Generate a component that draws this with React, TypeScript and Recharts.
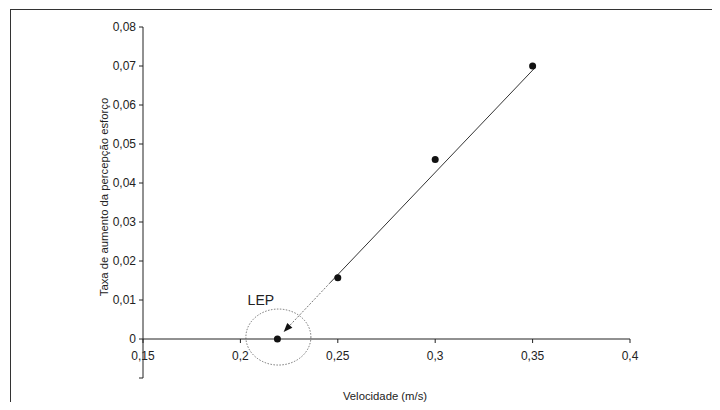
import { ReferenceDot, ReferenceLine, Scatter, ScatterChart, XAxis, YAxis } from "recharts";

// measured points: velocity (m/s) vs rate of perceived exertion increase
const pontos = [
  { x: 0.219, y: 0 },
  { x: 0.25, y: 0.0157 },
  { x: 0.3, y: 0.046 },
  { x: 0.35, y: 0.07 },
];

// regression line (solid part) and its extrapolation down to the LEP
const reta = [
  { x: 0.246, y: 0.0144 },
  { x: 0.3515, y: 0.0697 },
];
const extrapolacao = [
  { x: 0.246, y: 0.0144 },
  { x: 0.2222, y: 0.0018 },
];

const lep = { x: 0.2195, y: 0.0005 };
const lepLabel = { x: 0.2105, y: 0.01, text: "LEP" };

const xTicks = [0.15, 0.2, 0.25, 0.3, 0.35, 0.4];
const yTicks = [-0.01, 0, 0.01, 0.02, 0.03, 0.04, 0.05, 0.06, 0.07, 0.08];

const FONT = "'Liberation Sans', Arial, sans-serif";
const INK = "#222";

const W = 720;
const H = 410;
const TOP = 27;
const BOTTOM = 378;
// distance from the bottom of the plot (-0.01) up to the zero line
const ZERO_OFFSET = (BOTTOM - TOP) / 9;

const fmt = (v: number) => (v < 0 ? "" : String(v).replace(".", ","));

function XTick({ x, y, payload }: any) {
  const y0 = y - ZERO_OFFSET;
  return (
    <g>
      <line x1={x} y1={y0} x2={x} y2={y0 + 4} stroke={INK} />
      <text x={x} y={y0 + 21} textAnchor="middle" fill={INK} fontSize={12} fontFamily={FONT}>
        {fmt(payload.value)}
      </text>
    </g>
  );
}

function Arrow({ x1, y1, x2, y2 }: any) {
  const a = Math.atan2(y2 - y1, x2 - x1);
  const len = 9;
  const w = 3.5;
  const bx = x2 - len * Math.cos(a);
  const by = y2 - len * Math.sin(a);
  const px = -Math.sin(a) * w;
  const py = Math.cos(a) * w;
  return (
    <g>
      <line x1={x1} y1={y1} x2={bx} y2={by} stroke="#777" strokeWidth={1} strokeDasharray="2 1.5" />
      <polygon points={`${x2},${y2} ${bx + px},${by + py} ${bx - px},${by - py}`} fill="#111" />
    </g>
  );
}

export default function App() {
  return (
    <div style={{ position: "relative", width: W, height: H, margin: -8, overflow: "hidden", background: "#fff" }}>
      <div
        style={{
          position: "absolute",
          left: 10,
          top: 9,
          width: 705,
          height: 440,
          border: "1px solid #333",
        }}
      />
      <div style={{ position: "absolute", left: 0, top: 0 }}>
        <ScatterChart width={W} height={H} margin={{ top: TOP, right: 90, left: 103, bottom: 12 }}>
          <XAxis
            type="number"
            dataKey="x"
            domain={[0.15, 0.4]}
            ticks={xTicks}
            axisLine={false}
            tickLine={false}
            tickSize={0}
            tickMargin={0}
            height={20}
            tick={(p: any) => <XTick {...p} />}
          />
          <YAxis
            type="number"
            dataKey="y"
            domain={[-0.01, 0.08]}
            ticks={yTicks}
            width={40}
            axisLine={{ stroke: INK }}
            tickLine={{ stroke: INK }}
            tickSize={4}
            tickMargin={3}
            tickFormatter={fmt}
            tick={{ fill: INK, fontSize: 12, fontFamily: FONT }}
          />
          <ReferenceLine y={0} stroke={INK} strokeWidth={1} />
          <Scatter
            data={reta}
            line={{ stroke: "#333", strokeWidth: 1 }}
            shape={() => <g />}
            isAnimationActive={false}
          />
          <ReferenceLine
            segment={[extrapolacao[0], extrapolacao[1]]}
            shape={(p: any) => <Arrow {...p} />}
          />
          <ReferenceDot
            x={lep.x}
            y={lep.y}
            shape={(p: any) => (
              <ellipse cx={p.cx} cy={p.cy} rx={32.5} ry={28} fill="none" stroke="#555" strokeWidth={0.8} strokeDasharray="1.5 1.5" />
            )}
          />
          <ReferenceDot
            x={lepLabel.x}
            y={lepLabel.y}
            shape={(p: any) => (
              <text x={p.cx} y={p.cy + 5} textAnchor="middle" fill={INK} fontSize={14} fontFamily={FONT}>
                {lepLabel.text}
              </text>
            )}
          />
          <Scatter
            data={pontos}
            fill="#111"
            shape={(p: any) => <circle cx={p.cx} cy={p.cy} r={3.5} fill="#111" />}
            isAnimationActive={false}
          />
        </ScatterChart>
      </div>
      <div
        style={{
          position: "absolute",
          left: 385,
          top: 396,
          transform: "translate(-50%, -50%)",
          whiteSpace: "nowrap",
          fontFamily: FONT,
          fontSize: 11.3,
          color: INK,
        }}
      >
        Velocidade (m/s)
      </div>
      <div
        style={{
          position: "absolute",
          left: 104,
          top: 197,
          transform: "translate(-50%, -50%) rotate(-90deg)",
          whiteSpace: "nowrap",
          fontFamily: FONT,
          fontSize: 11.3,
          color: INK,
        }}
      >
        Taxa de aumento da percepção esforço
      </div>
    </div>
  );
}
